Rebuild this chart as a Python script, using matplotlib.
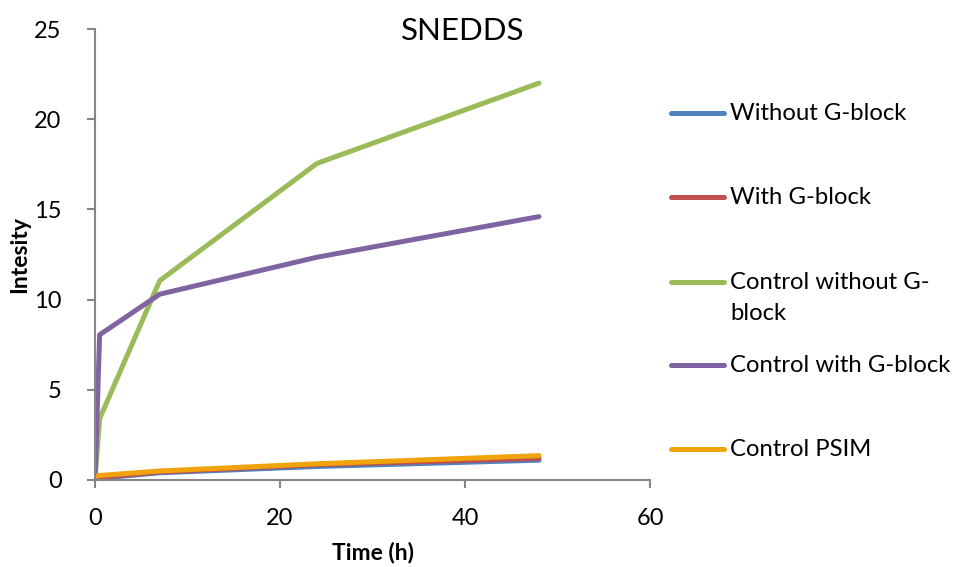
import matplotlib
matplotlib.use("Agg")
import matplotlib.pyplot as plt
from matplotlib.lines import Line2D

plt.rcParams['font.family'] = ['Lato', 'DejaVu Sans']

time_h = [0, 0.5, 7, 24, 48]
without_gblock = [0.0, 0.1, 0.4, 0.75, 1.1]
with_gblock = [0.0, 0.15, 0.45, 0.85, 1.2]
control_without = [0.0, 3.4, 11.05, 17.55, 22.0]
control_with = [0.0, 8.05, 10.3, 12.35, 14.6]
control_psim = [0.2, 0.25, 0.5, 0.9, 1.35]

labels = ["Without G-block", "With G-block", "Control without G-\nblock",
          "Control with G-block", "Control PSIM"]
colors = ["#4F81BD", "#C0504D", "#9BBB59", "#8064A2", "#F0A30A"]
series = [without_gblock, with_gblock, control_without, control_with, control_psim]

W, H = 956, 567
fig = plt.figure(figsize=(W / 100, H / 100), dpi=100)
ax = fig.add_axes([95 / W, 1 - 480 / H, (650 - 95) / W, (480 - 29) / H])

for ys, c in zip(series, colors):
    ax.plot(time_h, ys, color=c, lw=3.6, solid_capstyle='round', solid_joinstyle='round')

ax.set_xlim(0, 60)
ax.set_ylim(0, 25)
ax.set_xticks([0, 20, 40, 60])
ax.set_yticks([0, 5, 10, 15, 20, 25])
for s in ['top', 'right']:
    ax.spines[s].set_visible(False)
for s in ['left', 'bottom']:
    ax.spines[s].set_color('#868686')
    ax.spines[s].set_linewidth(1.5)
ax.tick_params(colors='#868686', labelcolor='black', labelsize=17, length=6, width=1.5)
ax.tick_params(axis='y', pad=18)
ax.tick_params(axis='x', pad=14)
ax.set_xlabel("Time (h)", fontsize=16.5, fontweight='bold', labelpad=9)
ax.set_ylabel("Intesity", fontsize=16.5, fontweight='bold', labelpad=3)

fig.text(463 / W, 1 - 31 / H, "SNEDDS", fontsize=22.5, ha='center', va='center')

# legend
leg_y = [113, 197, 282, 365, 449]
for lab, c, y in zip(labels, colors, leg_y):
    fig.add_artist(Line2D([671 / W, 724 / W], [1 - y / H, 1 - y / H], color=c, lw=3.6,
                          solid_capstyle='round'))
    lines = lab.split("\n")
    for i, part in enumerate(lines):
        fig.text(730 / W, 1 - (y + 7 + 31 * i) / H, part, fontsize=17.2, ha='left',
                 va='baseline')

fig.savefig("out.png", dpi=100)
